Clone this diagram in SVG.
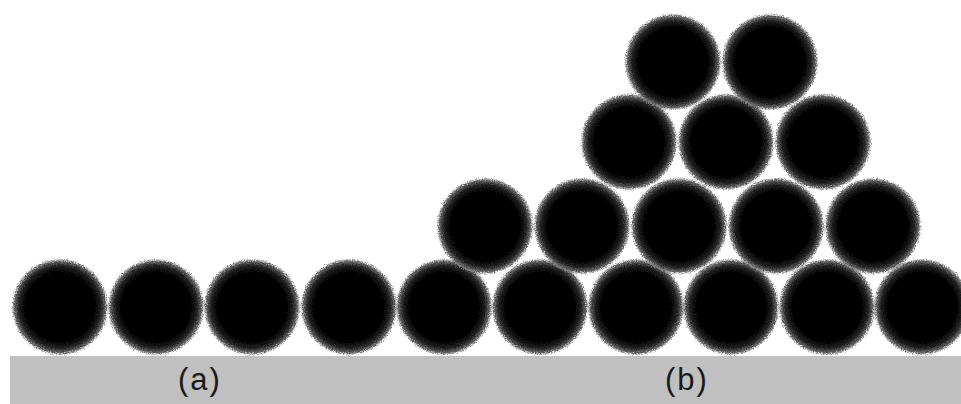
<svg xmlns="http://www.w3.org/2000/svg" width="961" height="404" viewBox="0 0 961 404">
  <defs>
    <radialGradient id="ball" cx="0.5" cy="0.5" r="0.5">
      <stop offset="0" stop-color="#000"/>
      <stop offset="0.72" stop-color="#000"/>
      <stop offset="0.86" stop-color="#222"/>
      <stop offset="0.95" stop-color="#666"/>
      <stop offset="1" stop-color="#aaa" stop-opacity="0.5"/>
    </radialGradient>
    <filter id="fuzz" x="-10%" y="-10%" width="120%" height="120%">
      <feTurbulence type="fractalNoise" baseFrequency="0.9" numOctaves="2" seed="3" result="n"/>
      <feDisplacementMap in="SourceGraphic" in2="n" scale="5" xChannelSelector="R" yChannelSelector="G"/>
    </filter>
  </defs>
  <style>
    .b { fill: url(#ball); filter: url(#fuzz); }
    .lbl { font-family: "Liberation Sans", Arial, sans-serif; font-size: 31px; fill: #1a1a1a; text-anchor: middle; letter-spacing: 2px; }
  </style>
  <rect width="961" height="404" fill="#fff"/>
  <rect id="ground" x="10" y="356" width="951" height="48" fill="#c0c0c0"/>
  <g id="row1">
    <circle class="b" cx="60" cy="307" r="48"/>
    <circle class="b" cx="156" cy="307" r="48"/>
    <circle class="b" cx="252" cy="307" r="48"/>
    <circle class="b" cx="349" cy="307" r="48"/>
    <circle class="b" cx="444" cy="307" r="48"/>
    <circle class="b" cx="540" cy="307" r="48"/>
    <circle class="b" cx="636" cy="307" r="48"/>
    <circle class="b" cx="731" cy="307" r="48"/>
    <circle class="b" cx="827" cy="307" r="48"/>
    <circle class="b" cx="922" cy="307" r="48"/>
  </g>
  <g id="row2">
    <circle class="b" cx="485" cy="226" r="48"/>
    <circle class="b" cx="582" cy="226" r="48"/>
    <circle class="b" cx="679" cy="226" r="48"/>
    <circle class="b" cx="776" cy="226" r="48"/>
    <circle class="b" cx="873" cy="226" r="48"/>
  </g>
  <g id="row3">
    <circle class="b" cx="629" cy="142" r="48"/>
    <circle class="b" cx="726" cy="142" r="48"/>
    <circle class="b" cx="823" cy="142" r="48"/>
  </g>
  <g id="row4">
    <circle class="b" cx="673" cy="62" r="48"/>
    <circle class="b" cx="770" cy="62" r="48"/>
  </g>
  <text class="lbl" x="200" y="390">(a)</text>
  <text class="lbl" x="687" y="390">(b)</text>
</svg>
